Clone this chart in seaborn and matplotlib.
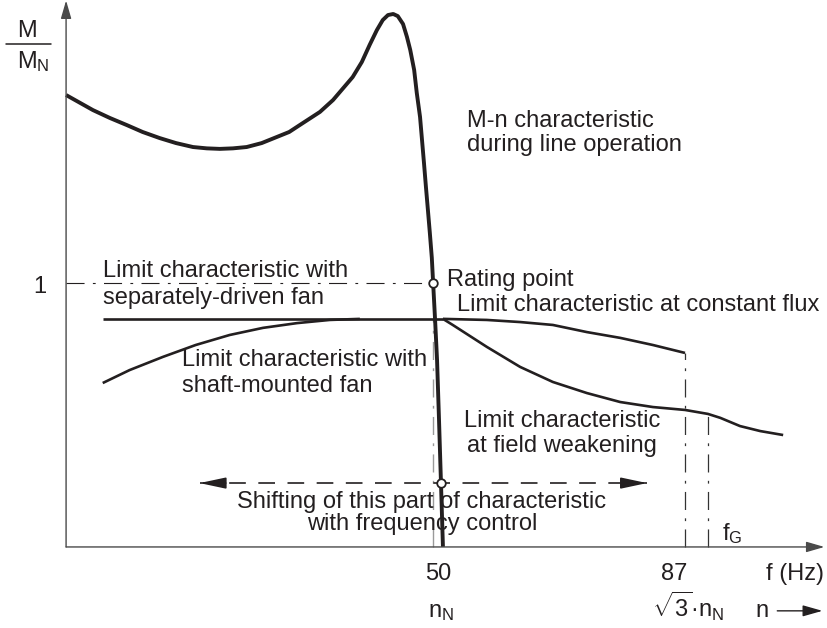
import matplotlib
matplotlib.use("Agg")
import pandas as pd
import matplotlib.pyplot as plt
import seaborn as sns

# Werte abgelesen: x = Frequenz f (Hz), y = M / M_N
# M-n-Kennlinie bei Netzbetrieb
mn_f = [-7.6, -3.5, -0.9, 1.7, 4.1, 6.7, 9.2, 11.8, 13.9, 15.9, 17.9, 20.0, 22.3, 24.6,
        26.5, 28.1, 31.2, 33.2, 36.2,
        37.6, 38.8, 39.9, 40.8, 41.6, 42.4, 43.1, 43.9, 44.5, 45.0, 45.6, 46.0,
        46.5, 46.8, 47.1, 47.4, 47.7, 48.0, 48.3, 48.5, 48.8, 49.1, 49.4, 49.7, 50.0]
mn_m = [1.712, 1.655, 1.625, 1.598, 1.572, 1.549, 1.530, 1.515, 1.510, 1.508, 1.510, 1.515, 1.530, 1.553,
        1.572, 1.598, 1.648, 1.693, 1.780,
        1.837, 1.902, 1.958, 1.996, 2.015, 2.019, 2.011, 1.981, 1.932, 1.883, 1.807, 1.720,
        1.629, 1.542, 1.455, 1.364, 1.277, 1.189, 1.095, 1.000, 0.860, 0.708, 0.481, 0.242, 0.0]

# Grenzkennlinie Fremdlüfter (waagrecht) und konstanter Fluss
sep_f = [-2.0, 50.0]
sep_m = [0.864, 0.864]
flux_f = [50.0, 56.7, 61.8, 66.8, 72.0, 77.1, 82.1, 87.0]
flux_m = [0.864, 0.860, 0.852, 0.841, 0.814, 0.792, 0.765, 0.735]

# Grenzkennlinie Eigenlüfter
shaft_f = [-2.0, 2.1, 7.2, 12.2, 17.4, 22.5, 27.7, 32.7, 37.3]
shaft_m = [0.621, 0.670, 0.720, 0.765, 0.803, 0.830, 0.848, 0.860, 0.864]

# Grenzkennlinie Feldschwächung
weak_f = [50.0, 51.5, 56.7, 61.8, 66.8, 72.0, 77.1, 82.1, 87.0, 90.5, 92.4, 95.4, 98.5, 102.0]
weak_m = [0.864, 0.841, 0.758, 0.682, 0.625, 0.583, 0.549, 0.530, 0.519, 0.504, 0.489, 0.458, 0.439, 0.424]

rating_f, rating_m = 48.5, 1.0
shift_f, shift_m = 49.7, 0.242
shift_range = [12.8, 81.2]
cross_m = 0.864
f_87, m_87 = 87.0, 0.735
f_G, m_G = 90.5, 0.504

tick_pos = [49.3, 85.3]
tick_labels = ["50", "87"]
speed_pos = [47.7, 82.0]
speed_labels = [r"n$_\mathregular{N}$", r"$\sqrt{3}$·n$_\mathregular{N}$"]

X0 = -7.6
XMAX = 108.3
YMAX = 2.07

INK = "#231f20"


def line(ax, xs, ys, lw):
    df = pd.DataFrame({"f": xs, "m": ys})
    sns.lineplot(data=df, x="f", y="m", ax=ax, color=INK, lw=lw, sort=False,
                 estimator=None, solid_joinstyle="round", solid_capstyle="butt")


def main():
    sns.set_theme(style="white")
    plt.rcParams["font.family"] = ["Liberation Sans", "DejaVu Sans"]
    plt.rcParams["mathtext.fontset"] = "custom"
    plt.rcParams["mathtext.rm"] = "Liberation Sans"
    plt.rcParams["mathtext.it"] = "Liberation Sans"
    plt.rcParams["lines.scale_dashes"] = False

    fig = plt.figure(figsize=(8.27, 6.28), dpi=100)
    ax = fig.add_axes([0, 0, 1, 1])
    ax.set_xlim(-17.7, 108.7)
    ax.set_ylim(-0.307, 2.072)
    ax.axis("off")

    # Achsen mit Pfeilen
    ax.annotate("", xy=(X0, YMAX), xytext=(X0, 0), annotation_clip=False,
                arrowprops=dict(arrowstyle="-|>,head_length=0.55,head_width=0.16",
                                mutation_scale=20, lw=1.0, color="#4a4a4a",
                                shrinkA=0, shrinkB=0))
    ax.annotate("", xy=(XMAX, 0), xytext=(X0, 0),
                arrowprops=dict(arrowstyle="-|>,head_length=0.55,head_width=0.16",
                                mutation_scale=20, lw=1.0, color="#4a4a4a",
                                shrinkA=0, shrinkB=0))

    dashdot = (0, (13, 6, 2, 6))
    # Hilfslinien
    ax.plot([X0, rating_f], [rating_m, rating_m], color=INK, lw=0.8, ls=dashdot)
    ax.plot([rating_f, rating_f], [0, cross_m], color="#9a9a9a", lw=1.0, ls=dashdot)
    ax.plot([f_87, f_87], [0, m_87], color="#333333", lw=0.9, ls=dashdot)
    ax.plot([f_G, f_G], [0, m_G], color="#333333", lw=0.9, ls=dashdot)

    # Kennlinien
    line(ax, sep_f, sep_m, 1.9)
    line(ax, flux_f, flux_m, 1.9)
    line(ax, shaft_f, shaft_m, 1.9)
    line(ax, weak_f, weak_m, 1.9)
    line(ax, mn_f, mn_m, 2.8)

    # Verschiebung (gestrichelter Doppelpfeil)
    ax.plot(shift_range, [shift_m, shift_m], color=INK, lw=1.2, ls=(0, (12, 9)))
    for end, start in [(shift_range[0], shift_range[0] + 4), (shift_range[1], shift_range[1] - 4)]:
        ax.annotate("", xy=(end, shift_m), xytext=(start, shift_m),
                    arrowprops=dict(arrowstyle="-|>,head_length=0.8,head_width=0.17",
                                    mutation_scale=20, lw=1.2, color=INK,
                                    shrinkA=0, shrinkB=0))

    pts = pd.DataFrame({"f": [rating_f, shift_f], "m": [rating_m, shift_m]})
    sns.scatterplot(data=pts, x="f", y="m", ax=ax, s=38, color="white",
                    edgecolor=INK, linewidth=1.3, zorder=5)

    fs = 17
    kw = dict(fontsize=fs, color=INK, va="baseline")
    ax.text(53.7, 1.591, "M-n characteristic", ha="left", **kw)
    ax.text(53.7, 1.500, "during line operation", ha="left", **kw)
    ax.text(-2.0, 1.023, "Limit characteristic with", ha="left", **kw)
    ax.text(-2.0, 0.920, "separately-driven fan", ha="left", **kw)
    ax.text(50.6, 0.989, "Rating point", ha="left", **kw)
    ax.text(52.1, 0.894, "Limit characteristic at constant flux", ha="left", **kw)
    ax.text(10.1, 0.686, "Limit characteristic with", ha="left", **kw)
    ax.text(10.1, 0.587, "shaft-mounted fan", ha="left", **kw)
    ax.text(68.2, 0.455, "Limit characteristic", ha="center", **kw)
    ax.text(68.2, 0.360, "at field weakening", ha="center", **kw)
    ax.text(46.8, 0.148, "Shifting of this part of characteristic", ha="center", **kw)
    ax.text(46.8, 0.064, "with frequency control", ha="center", **kw)
    ax.text(92.7, 0.027, r"f$_\mathregular{G}$", ha="left", **kw)

    # y-Achse
    ax.text(-11.6, 0.962, "1", ha="center", **kw)
    ax.text(-13.6, 1.932, "M", ha="center", **kw)
    ax.plot([-16.8, -9.9], [1.905, 1.905], color=INK, lw=1.1)
    ax.text(-15.1, 1.814, r"M$_\mathregular{N}$", ha="left", **kw)

    # x-Achse
    for p, t in zip(tick_pos, tick_labels):
        ax.text(p, -0.125, t, ha="center", **kw)
    ax.text(99.4, -0.125, "f (Hz)", ha="left", **kw)
    for p, t in zip(speed_pos, speed_labels):
        ax.text(p, -0.265, t, ha="left", **kw)
    ax.text(97.7, -0.265, "n", ha="left", **kw)
    ax.annotate("", xy=(108.0, -0.242), xytext=(101.1, -0.242),
                arrowprops=dict(arrowstyle="-|>,head_length=0.6,head_width=0.17",
                                mutation_scale=20, lw=1.0, color=INK,
                                shrinkA=0, shrinkB=0))

    fig.savefig("out.png", dpi=100)
    plt.close(fig)


if __name__ == "__main__":
    main()
